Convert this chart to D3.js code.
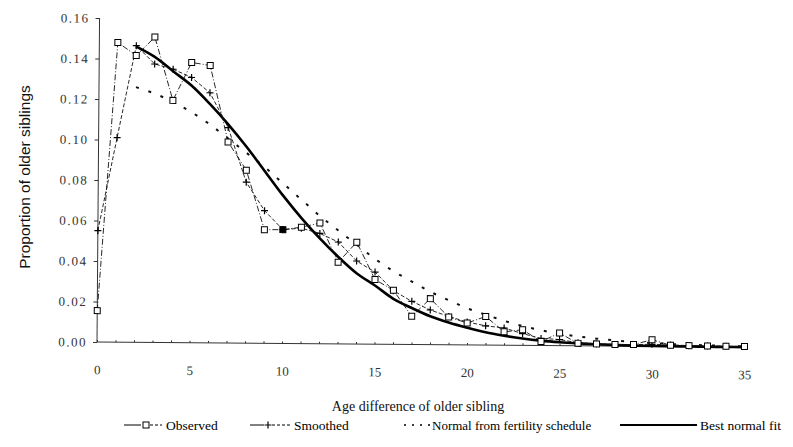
<!DOCTYPE html>
<html>
<head>
<meta charset="utf-8">
<script src="https://cdn.jsdelivr.net/npm/d3@7"></script>
<style>
  body { margin: 0; background: #fff; }
  svg { display: block; }
</style>
</head>
<body>
<div id="chart"></div>
<script>
// Age difference of older sibling (years)
const ages = [0, 1, 2, 3, 4, 5, 6, 7, 8, 9, 10, 11, 12, 13, 14, 15, 16, 17,
  18, 19, 20, 21, 22, 23, 24, 25, 26, 27, 28, 29, 30, 31, 32, 33, 34, 35];

const observed = [0.0155, 0.148, 0.1416, 0.1508, 0.1196, 0.1384, 0.137, 0.0993, 0.0854, 0.0561,
  0.0562, 0.0575, 0.0596, 0.0403, 0.0503, 0.0319, 0.0267, 0.0139, 0.0227, 0.0137,
  0.0108, 0.0141, 0.0066, 0.0077, 0.0020, 0.0062, 0.0012, 0.0010, 0.0008, 0.0008,
  0.0033, 0.0006, 0.0005, 0.0004, 0.0003, 0.0003];

const smoothed = [0.055, 0.101, 0.1465, 0.1375, 0.135, 0.131, 0.1235, 0.1064, 0.0795, 0.0655,
  0.0562, 0.0570, 0.0545, 0.0503, 0.0410, 0.0356, 0.0265, 0.0213, 0.0171, 0.0140,
  0.0113, 0.0095, 0.0085, 0.0058, 0.0035, 0.0030, 0.0015, 0.0010, 0.0008, 0.0008,
  0.0010, 0.0008, 0.0005, 0.0004, 0.0003, 0.0003];

const fertilityNormal = [null, null, 0.126, 0.123, 0.119, 0.114, 0.108, 0.101, 0.094, 0.087,
  0.079, 0.071, 0.063, 0.056, 0.049, 0.042, 0.036, 0.031, 0.026, 0.022,
  0.018, 0.015, 0.012, 0.0095, 0.0075, 0.0058, 0.0046, 0.0036, 0.0028, 0.0021,
  0.0016, 0.0012, 0.0009, 0.0007, 0.0005, 0.0004];

const bestFit = [null, null, 0.146, 0.141, 0.134, 0.127, 0.118, 0.108, 0.097, 0.085,
  0.073, 0.062, 0.052, 0.043, 0.035, 0.029, 0.0225, 0.018, 0.014, 0.011,
  0.0085, 0.0063, 0.0047, 0.0034, 0.0024, 0.0017, 0.0012, 0.0008, 0.0005, 0.0003,
  0.0002, 0.0001, 0.0001, 0, 0, 0];

// points where the scan shows a filled marker
const filledObserved = [10];

const yTicks = [0, 0.02, 0.04, 0.06, 0.08, 0.10, 0.12, 0.14, 0.16];
const xTicks = [0, 5, 10, 15, 20, 25, 30, 35];

const width = 793, height = 447;
const serif = "'Liberation Serif', 'Times New Roman', serif";
const sans = "'Liberation Sans', Arial, sans-serif";

const svg = d3.select("#chart").append("svg")
  .attr("width", width)
  .attr("height", height)
  .style("background", "#fff");

const x = d3.scaleLinear().domain([0, 35]).range([97, 744.5]);
const y = d3.scaleLinear().domain([0, 0.16]).range([342, 18]);

// the scanned figure sits slightly skewed
const plot = svg.append("g")
  .attr("transform", `rotate(0.45, ${x(0)}, ${y(0)})`);

// y axis
const yAxis = plot.append("g")
  .attr("transform", `translate(${x(0)},0)`)
  .call(d3.axisLeft(y).tickValues(yTicks).tickFormat(d3.format(".2f")).tickSize(4).tickPadding(6));
yAxis.select(".domain").attr("stroke", "#333").attr("stroke-width", 1).attr("d", `M0,${y(0)}V${y(0.16)}`);
yAxis.selectAll(".tick line").attr("stroke", "#333");
yAxis.selectAll(".tick text")
  .style("font-family", serif)
  .style("font-size", "13px")
  .style("letter-spacing", "1.5px")
  .attr("fill", "#333");

// x axis: minor ticks at every year, labels every 5
const xMinor = plot.append("g")
  .attr("transform", `translate(0,${y(0)})`)
  .call(d3.axisBottom(x).tickValues(ages).tickSize(-2).tickFormat(""));
xMinor.select(".domain").attr("stroke", "#333").attr("d", `M${x(0)},0H${x(35)}`);
xMinor.selectAll(".tick line").attr("stroke", "#333");

const xAxis = plot.append("g")
  .attr("transform", `translate(0,${y(0)})`)
  .call(d3.axisBottom(x).tickValues(xTicks).tickSize(0).tickPadding(23));
xAxis.select(".domain").remove();
xAxis.selectAll(".tick text")
  .style("font-family", serif)
  .style("font-size", "13px")
  .attr("fill", "#333");

// series lines
const line = d3.line()
  .defined(d => d[1] !== null)
  .x(d => x(d[0]))
  .y(d => y(d[1]));

const pairs = arr => ages.map((a, i) => [a, arr[i]]);

plot.append("path")
  .datum(pairs(fertilityNormal))
  .attr("fill", "none")
  .attr("stroke", "#111")
  .attr("stroke-width", 2)
  .attr("stroke-dasharray", "3,10")
  .attr("d", line);

plot.append("path")
  .datum(pairs(bestFit))
  .attr("fill", "none")
  .attr("stroke", "#000")
  .attr("stroke-width", 2.6)
  .attr("d", line.curve(d3.curveCatmullRom));

line.curve(d3.curveLinear);

plot.append("path")
  .datum(pairs(smoothed))
  .attr("fill", "none")
  .attr("stroke", "#111")
  .attr("stroke-width", 0.9)
  .attr("stroke-dasharray", "4,2")
  .attr("d", line);

plot.append("path")
  .datum(pairs(observed))
  .attr("fill", "none")
  .attr("stroke", "#111")
  .attr("stroke-width", 0.9)
  .attr("stroke-dasharray", "6,2,1,2")
  .attr("d", line);

// markers
plot.append("g").selectAll("path")
  .data(pairs(smoothed))
  .join("path")
  .attr("transform", d => `translate(${x(d[0])},${y(d[1])})`)
  .attr("d", "M-3.5,0H3.5M0,-3.5V3.5")
  .attr("stroke", "#000")
  .attr("stroke-width", 1.2);

plot.append("g").selectAll("rect")
  .data(pairs(observed))
  .join("rect")
  .attr("x", d => x(d[0]) - 3)
  .attr("y", d => y(d[1]) - 3)
  .attr("width", 6)
  .attr("height", 6)
  .attr("fill", d => filledObserved.includes(d[0]) ? "#000" : "#fff")
  .attr("stroke", "#000")
  .attr("stroke-width", 1);

// axis titles
svg.append("text")
  .attr("x", 418)
  .attr("y", 411)
  .attr("text-anchor", "middle")
  .style("font-family", serif)
  .style("font-size", "14px")
  .attr("fill", "#111")
  .text("Age difference of older sibling");

svg.append("text")
  .attr("transform", "translate(30,177) rotate(-90)")
  .attr("text-anchor", "middle")
  .style("font-family", sans)
  .style("font-size", "15.5px")
  .attr("fill", "#111")
  .text("Proportion of older siblings");

// legend
const ly = 425;
const legend = svg.append("g").style("font-family", serif).style("font-size", "13.5px");

legend.append("path").attr("d", `M124,${ly}H141`).attr("stroke", "#000").attr("stroke-width", 1);
legend.append("path").attr("d", `M150,${ly}H162`).attr("stroke", "#000").attr("stroke-width", 1).attr("stroke-dasharray", "3,2");
legend.append("rect").attr("x", 143).attr("y", ly - 3).attr("width", 6).attr("height", 6)
  .attr("fill", "#fff").attr("stroke", "#000");
legend.append("text").attr("x", 166).attr("y", ly + 4.5).text("Observed");

legend.append("path").attr("d", `M250,${ly}H264`).attr("stroke", "#000").attr("stroke-width", 1);
legend.append("path").attr("d", `M272,${ly}H290`).attr("stroke", "#000").attr("stroke-width", 1).attr("stroke-dasharray", "3,2");
legend.append("path").attr("d", `M264.5,${ly}H271.5M268,${ly - 3.5}V${ly + 3.5}`).attr("stroke", "#000").attr("stroke-width", 1.2);
legend.append("text").attr("x", 294).attr("y", ly + 4.5).text("Smoothed");

legend.append("path").attr("d", `M404,${ly}H431`).attr("stroke", "#000").attr("stroke-width", 1.5).attr("stroke-dasharray", "2,6");
legend.append("text").attr("x", 432).attr("y", ly + 4.5)
  .style("font-size", "13px")
  .text("Normal from fertility schedule");

legend.append("path").attr("d", `M620,${ly}H697`).attr("stroke", "#000").attr("stroke-width", 2);
legend.append("text").attr("x", 700).attr("y", ly + 4.5).text("Best normal fit");
</script>
</body>
</html>
